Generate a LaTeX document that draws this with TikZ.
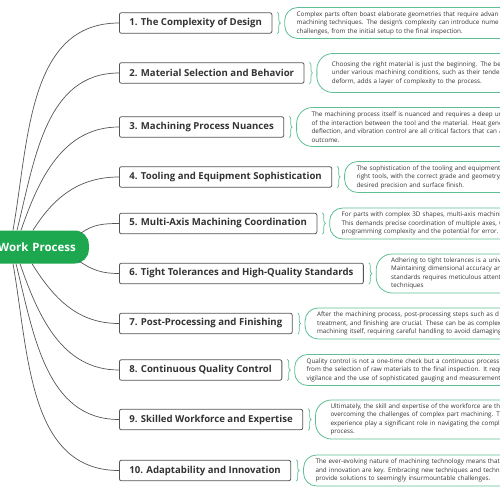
\documentclass[tikz,border=0pt]{standalone}
\usepackage{fontspec}
\setmainfont{Open Sans}
\usetikzlibrary{positioning, decorations.pathreplacing}
\definecolor{rootgreen}{HTML}{1DA84F}
\definecolor{notegreen}{HTML}{5EBF94}
\definecolor{framegray}{HTML}{555555}
\definecolor{textgray}{HTML}{333333}

\tikzset{
    root/.style={rectangle, anchor=east, fill=rootgreen, rounded corners=14pt, text width=130pt, align=right, inner xsep=13pt, minimum height=33pt, text=white, font=\fontsize{11.5}{13}\selectfont\bfseries},
    topic/.style={rectangle, draw=framegray, line width=0.8pt, rounded corners=2pt, fill=white, anchor=west, inner xsep=10pt, minimum height=20.5pt, text=textgray, font=\fontsize{9.6}{11}\selectfont\bfseries},
    note/.style={rectangle, draw=notegreen, line width=0.8pt, rounded corners=13pt, inner xsep=12pt, inner ysep=0pt, minimum height=31pt, text width=320pt, align=left, text=textgray, font=\fontsize{6.3}{8.5}\selectfont, right=12pt of #1},
    tallnote/.style={note=#1, rounded corners=16pt, inner xsep=15pt, minimum height=39pt},
    link/.style={draw=framegray, line width=0.7pt},
    bracket/.style={draw=notegreen, line width=0.7pt, decorate, decoration={brace, amplitude=3pt}}
}

\begin{document}
\begin{tikzpicture}[x=1pt, y=1pt]
        \useasboundingbox (0,0) rectangle (500,-500);
        \clip (0,0) rectangle (500,-500);

        \node[root] (root) at (89,-247) {Work Process};

        \node[topic] at (119,-23) (topic1) {1. The Complexity of Design};
        \node[topic] at (119,-73) (topic2) {2. Material Selection and Behavior};
        \node[topic] at (119,-127) (topic3) {3. Machining Process Nuances};
        \node[topic] at (119,-177) (topic4) {4. Tooling and Equipment Sophistication};
        \node[topic] at (119,-223.5) (topic5) {5. Multi-Axis Machining Coordination};
        \node[topic] at (119,-273.5) (topic6) {6. Tight Tolerances and High-Quality Standards};
        \node[topic] at (119,-323.5) (topic7) {7. Post-Processing and Finishing};
        \node[topic] at (119,-370) (topic8) {8. Continuous Quality Control};
        \node[topic] at (119,-419.5) (topic9) {9. Skilled Workforce and Expertise};
        \node[topic] at (119,-470.5) (topic10) {10. Adaptability and Innovation};

        \node[note=topic1] (note1) {Complex parts often boast elaborate geometries that require advan\\machining techniques. The design's complexity can introduce nume\\challenges, from the initial setup to the final inspection.};
        \node[tallnote=topic2] (note2) {Choosing the right material is just the beginning. The beh\\under various machining conditions, such as their tendenc\\deform, adds a layer of complexity to the process.};
        \node[tallnote=topic3] (note3) {The machining process itself is nuanced and requires a deep und\\of the interaction between the tool and the material. Heat gener\\deflection, and vibration control are all critical factors that can a\\outcome.};
        \node[note=topic4] (note4) {The sophistication of the tooling and equipment\\right tools, with the correct grade and geometry,\\desired precision and surface finish.};
        \node[note=topic5] (note5) {For parts with complex 3D shapes, multi-axis machinin\\This demands precise coordination of multiple axes, w\\programming complexity and the potential for error.};
        \node[tallnote=topic6] (note6) {Adhering to tight tolerances is a unive\\Maintaining dimensional accuracy and\\standards requires meticulous attentio\\techniques};
        \node[note=topic7] (note7) {After the machining process, post-processing steps such as d\\treatment, and finishing are crucial. These can be as complex\\machining itself, requiring careful handling to avoid damaging};
        \node[note=topic8] (note8) {Quality control is not a one-time check but a continuous process\\from the selection of raw materials to the final inspection. It requi\\vigilance and the use of sophisticated gauging and measurement};
        \node[tallnote=topic9] (note9) {Ultimately, the skill and expertise of the workforce are the\\overcoming the challenges of complex part machining. Tr\\experience play a significant role in navigating the comple\\process.};
        \node[note=topic10] (note10) {The ever-evolving nature of machining technology means that\\and innovation are key. Embracing new techniques and techno\\provide solutions to seemingly insurmountable challenges.};

        % braces between topics and notes
        \foreach \i in {1,...,10}
            \draw[bracket] ([xshift=5pt]topic\i.north east) -- ([xshift=5pt]topic\i.south east);

        % branches
        \draw[link] ([xshift=-76pt]root.north east) to[out=80, in=180] (topic1.west);
        \draw[link] ([xshift=-72pt]root.north east) to[out=76, in=180] (topic2.west);
        \draw[link] ([xshift=-68pt]root.north east) to[out=71, in=180] (topic3.west);
        \draw[link] ([xshift=-56pt]root.north east) to[out=58, in=180] (topic4.west);
        \draw[link] ([xshift=-8pt, yshift=14pt]root.east) to[out=35, in=180] (topic5.west);
        \draw[link] ([xshift=-10pt, yshift=-14pt]root.east) to[out=-35, in=180] (topic6.west);
        \draw[link] ([xshift=-57pt]root.south east) to[out=-58, in=180] (topic7.west);
        \draw[link] ([xshift=-69pt]root.south east) to[out=-71, in=180] (topic8.west);
        \draw[link] ([xshift=-73pt]root.south east) to[out=-76, in=180] (topic9.west);
        \draw[link] ([xshift=-76pt]root.south east) to[out=-80, in=180] (topic10.west);
\end{tikzpicture}
\end{document}
